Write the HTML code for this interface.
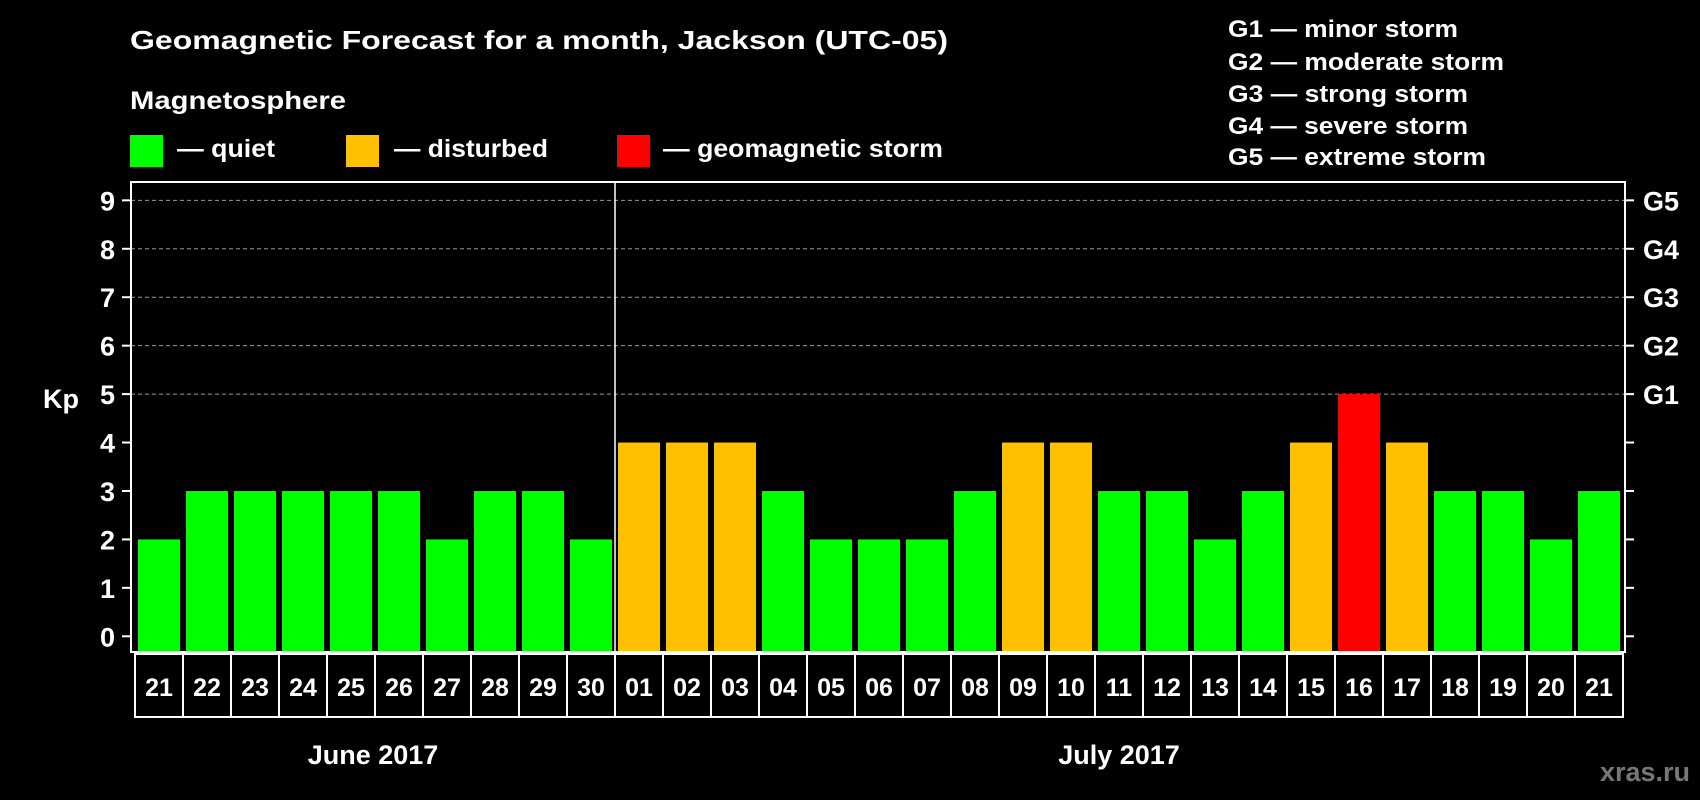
<!DOCTYPE html>
<html><head><meta charset="utf-8"><style>
html,body{margin:0;padding:0;background:#000;}
svg{display:block;font-family:"Liberation Sans",Arial,sans-serif;font-weight:bold;}
</style></head><body>
<svg id="chart" width="1700" height="800" viewBox="0 0 1700 800" xmlns="http://www.w3.org/2000/svg">
<rect width="1700" height="800" fill="#000"/>
<text x="130" y="49" fill="#fff" font-size="26" textLength="818" lengthAdjust="spacingAndGlyphs">Geomagnetic Forecast for a month, Jackson (UTC-05)</text>
<text x="130" y="109" fill="#fff" font-size="25" textLength="216" lengthAdjust="spacingAndGlyphs">Magnetosphere</text>
<g>
<rect x="130" y="135" width="33" height="32" fill="#00ff00"/>
<text x="177" y="157" fill="#fff" font-size="25" textLength="98" lengthAdjust="spacingAndGlyphs">— quiet</text></g>
<g>
<rect x="346" y="135" width="33" height="32" fill="#ffc000"/>
<text x="394" y="157" fill="#fff" font-size="25" textLength="154" lengthAdjust="spacingAndGlyphs">— disturbed</text></g>
<g>
<rect x="617" y="135" width="33" height="32" fill="#ff0000"/>
<text x="663" y="157" fill="#fff" font-size="25" textLength="280" lengthAdjust="spacingAndGlyphs">— geomagnetic storm</text></g>
<g fill="#fff" font-size="24">
<text x="1228" y="37" textLength="230" lengthAdjust="spacingAndGlyphs">G1 — minor storm</text>
<text x="1228" y="70" textLength="276" lengthAdjust="spacingAndGlyphs">G2 — moderate storm</text>
<text x="1228" y="102" textLength="240" lengthAdjust="spacingAndGlyphs">G3 — strong storm</text>
<text x="1228" y="134" textLength="240" lengthAdjust="spacingAndGlyphs">G4 — severe storm</text>
<text x="1228" y="165" textLength="258" lengthAdjust="spacingAndGlyphs">G5 — extreme storm</text>
</g>
<text x="43" y="408" fill="#fff" font-size="27">Kp</text>
<g id="grid"></g><g id="bars"></g><g id="axes"></g><g id="labels"></g>
<text x="373" y="764" fill="#fff" font-size="27" text-anchor="middle">June 2017</text>
<text x="1119" y="764" fill="#fff" font-size="27" text-anchor="middle">July 2017</text>
<text x="1690" y="781" fill="#777" font-size="27" text-anchor="end">xras.ru</text>
</svg>
<script>
const days = ["21","22","23","24","25","26","27","28","29","30","01","02","03","04","05","06","07","08","09","10","11","12","13","14","15","16","17","18","19","20","21"];
const kpValues = [2,3,3,3,3,3,2,3,3,2,4,4,4,3,2,2,2,3,4,4,3,3,2,3,4,5,4,3,3,2,3];
const yTicks = [0,1,2,3,4,5,6,7,8,9];
const gLabels = ["G1","G2","G3","G4","G5"];
const gLevels = [5,6,7,8,9];
const monthSplitIndex = 10;

const NS="http://www.w3.org/2000/svg";
const X0=131, X1=1625, Y0=182, Y1=652;
const barStart=138, pitch=48, barW=42;
function yScale(v){return 636.3 - v*48.44;}
function xScale(i){return barStart + i*pitch;}
function mk(tag,attrs,parent){const e=document.createElementNS(NS,tag);for(const k in attrs)e.setAttribute(k,attrs[k]);parent.appendChild(e);return e;}
const grid=document.getElementById('grid'),bars=document.getElementById('bars'),axes=document.getElementById('axes'),labels=document.getElementById('labels');

gLevels.forEach(v=>{
  const l=mk('line',{x1:X0,x2:X1,y1:yScale(v),y2:yScale(v),stroke:'#999','stroke-width':1,'stroke-dasharray':'4,3'},grid);
  
  
});
kpValues.forEach((v,i)=>{
  const c = v>=5?'#ff0000':(v>=4?'#ffc000':'#00ff00');
  const r=mk('rect',{x:xScale(i),y:yScale(v),width:barW,height:Y1-yScale(v),fill:c},bars);
  
  
});
const frame=mk('rect',{x:X0,y:Y0,width:X1-X0,height:Y1-Y0,fill:'none',stroke:'#fff','stroke-width':2},axes);


const sx=xScale(monthSplitIndex)-3;
const div=mk('line',{x1:sx,x2:sx,y1:Y0,y2:Y1,stroke:'#fff','stroke-width':1.5},axes);


yTicks.forEach(v=>{
  const y=yScale(v);
  mk('line',{x1:122,x2:X0,y1:y,y2:y,stroke:'#fff','stroke-width':2},axes);
  mk('line',{x1:X1,x2:1634,y1:y,y2:y,stroke:'#fff','stroke-width':2},axes);
  const t=mk('text',{x:115,y:y+10,fill:'#fff','font-size':27,'text-anchor':'end'},labels);
  t.textContent=v;
  
  
});
gLevels.forEach((v,i)=>{
  const t=mk('text',{x:1643,y:yScale(v)+10,fill:'#fff','font-size':27},labels);
  t.textContent=gLabels[i];
  
  
});
days.forEach((d,i)=>{
  const cx=xScale(i)-3;
  const r=mk('rect',{x:cx,y:654,width:pitch,height:63,fill:'none',stroke:'#fff','stroke-width':2},labels);
  
  
  const t=mk('text',{x:cx+pitch/2,y:696,fill:'#fff','font-size':25,'text-anchor':'middle'},labels);
  t.textContent=d;
  
  
});
</script>
</body></html>
